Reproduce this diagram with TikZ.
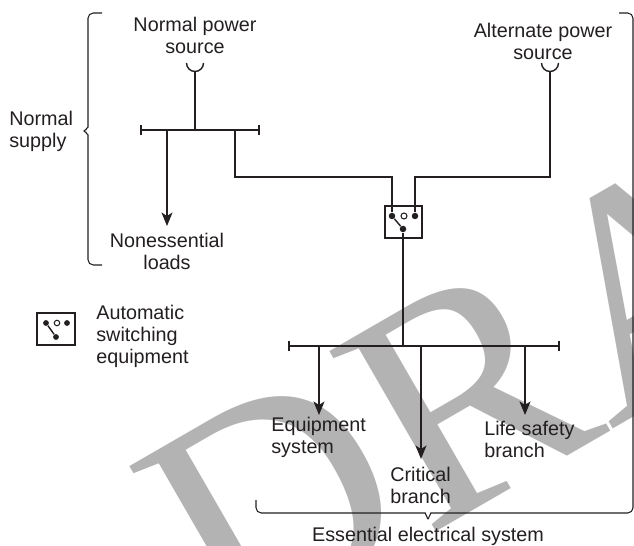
\documentclass[tikz,border=0pt]{standalone}
\usepackage{fontspec}
\setmainfont{Liberation Sans}
\newfontfamily\markfont{Liberation Serif}
\usepackage{xcolor}
\usetikzlibrary{calc,positioning,arrows.meta}
\definecolor{inkline}{HTML}{231F20}
\definecolor{markgray}{HTML}{B3B3B3}
\tikzset{
	lbl/.style={align=center,inner sep=0pt,text=inkline,font=\fontsize{11.25}{12.5}\selectfont},
	lblleft/.style={lbl,align=left,anchor=west},
	wire/.style={draw=inkline,line width=0.8pt},
	feed/.style={wire,-{Stealth[length=2.7mm,width=2.2mm,inset=0.7mm]}},
	dotclosed/.style={shape=circle,fill=inkline,inner sep=0pt,minimum size=0.13cm},
	dotopen/.style={shape=circle,draw=inkline,line width=0.6pt,fill=white,inner sep=0pt,minimum size=0.12cm}
}
\begin{document}
\begin{tikzpicture}[x=0.02cm,y=-0.02cm]
		\useasboundingbox (0,0) rectangle (634,546);
		\begin{scope}
			\clip (0,0) rectangle (634,546);
			\node (watermark) [anchor=base west,rotate=30,text=markgray,inner sep=0pt,font=\markfont\fontsize{182}{182}\selectfont] at (226,653) {DRAFT};
		\end{scope}
		% labels
		\node (normalsrc) [lbl] at (195,35) {Normal power\\source};
		\node (alternatesrc) [lbl] at (543,41) {Alternate power\\source};
		\node (normalsupply) [lblleft] at (9,131) {Normal\\supply};
		\node (nonessential) [lbl] at (167,251) {Nonessential\\loads};
		\node (automatic) [lblleft] at (96,336) {Automatic\\switching\\equipment};
		\node (equipment) [lblleft] at (271,437) {Equipment\\system};
		\node (critical) [lblleft] at (390,485) {Critical\\branch};
		\node (lifesafety) [lblleft] at (484,439) {Life safety\\branch};
		\node (essential) [lbl] at (428,536) {Essential electrical system};
		% sources
		\coordinate (normalcup) at (195,71);
		\coordinate (alternatecup) at (550,71);
		\draw[wire] ($(normalcup)+(-8.5,-8)$) arc[start angle=180,end angle=0,radius=8.5];
		\draw[wire] ($(alternatecup)+(-8.5,-8)$) arc[start angle=180,end angle=0,radius=8.5];
		% upper bus
		\coordinate (busa) at (195,130);
		\coordinate (busaleft) at (141,130);
		\coordinate (busaright) at (259,130);
		\coordinate (tapload) at (167,130);
		\coordinate (tapswitch) at (235,130);
		\coordinate (loadend) at (167,226);
		\draw[wire] (normalcup) -- (busa);
		\draw[wire] (busaleft) -- (busaright);
		\draw[wire] ($(busaleft)+(0,-5)$) -- ($(busaleft)+(0,5)$);
		\draw[wire] ($(busaright)+(0,-5)$) -- ($(busaright)+(0,5)$);
		\draw[feed] (tapload) -- (loadend);
		% transfer switch
		\node (switchbox) [draw=inkline,line width=1.2pt,inner sep=0pt,minimum width=0.74cm,minimum height=0.64cm] at (403.5,222) {};
		\node (contacta) [dotclosed] at (392,216) {};
		\node (contactb) [dotclosed] at (415,216) {};
		\node (contactc) [dotopen] at (404,216) {};
		\node (contactd) [dotclosed] at (403,229) {};
		\draw[wire] (contacta) -- (contactd);
		\draw[wire] (tapswitch) |- (392,177) -- (contacta);
		\draw[wire] (alternatecup) |- (415,177) -- (contactb);
		% lower bus
		\coordinate (busb) at (403,346);
		\coordinate (busbleft) at (289,346);
		\coordinate (busbright) at (559,346);
		\draw[wire] (contactd) -- (busb);
		\draw[wire] (busbleft) -- (busbright);
		\draw[wire] ($(busbleft)+(0,-5)$) -- ($(busbleft)+(0,5)$);
		\draw[wire] ($(busbright)+(0,-5)$) -- ($(busbright)+(0,5)$);
		\coordinate (tapequip) at (319,346);
		\coordinate (tapcrit) at (421,346);
		\coordinate (taplife) at (525,346);
		\draw[feed] (tapequip) -- (319,415);
		\draw[feed] (tapcrit) -- (421,459);
		\draw[feed] (taplife) -- (525,415);
		% legend symbol
		\node (legendbox) [draw=inkline,line width=1.1pt,inner sep=0pt,minimum width=0.76cm,minimum height=0.64cm] at (56,329) {};
		\node (legenda) [dotclosed,minimum size=0.115cm] at (46,323) {};
		\node (legendb) [dotclosed,minimum size=0.115cm] at (67,323) {};
		\node (legendc) [dotopen,minimum size=0.11cm] at (57,323) {};
		\node (legendd) [dotclosed,minimum size=0.115cm] at (56,337) {};
		\draw[wire] (legenda) -- (legendd);
		% braces
		\draw[wire,line width=0.6pt,rounded corners=3pt] (102,13) -- (88,13) -- (88,122) .. controls (88,127) and (85,130) .. (81,131) .. controls (85,132) and (88,135) .. (88,140) -- (88,265) -- (102,265);
		\draw[wire,line width=0.6pt,rounded corners=3pt] (619,13) -- (633,13) -- (633,513) -- (436,513) .. controls (431,513) and (429,517) .. (428,522) .. controls (427,517) and (425,513) .. (420,513) -- (256,513) -- (256,500);
	\end{tikzpicture}
\end{document}
